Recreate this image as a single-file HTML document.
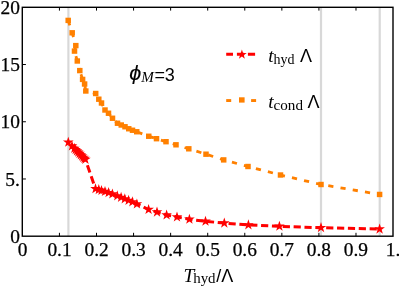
<!DOCTYPE html><html><head><meta charset="utf-8"><style>html,body{margin:0;padding:0;background:#fff;}svg{display:block;}text{font-family:"Liberation Serif",serif;fill:#000;}.tx{filter:grayscale(1);}.ss{font-family:"Liberation Sans",sans-serif;}</style></head><body>
<svg width="399" height="289" viewBox="0 0 399 289">
<rect width="399" height="289" fill="#fff"/>
<line x1="68.40" y1="7.00" x2="68.40" y2="236.00" stroke="#d8d8d8" stroke-width="2.2"/>
<line x1="321.00" y1="7.00" x2="321.00" y2="236.00" stroke="#d8d8d8" stroke-width="2.2"/>
<line x1="379.70" y1="7.00" x2="379.70" y2="236.00" stroke="#d8d8d8" stroke-width="2.2"/>
<polyline points="68.20,20.40 72.20,32.80 75.80,45.60 74.50,51.10 77.30,61.00 79.80,70.60" fill="none" stroke="#ff8000" stroke-width="2.8" stroke-dasharray="5.2 7.2" stroke-dashoffset="0"/>
<polyline points="79.80,70.60 82.60,79.40 84.60,84.00 85.80,91.00 95.70,93.50 98.80,99.20 101.50,103.00 105.00,110.00 108.50,113.25 112.50,118.25 117.50,123.25 121.25,125.00 125.00,126.75 128.75,128.75 132.50,130.25 136.75,131.75 148.75,136.25 156.50,138.70 166.00,141.70 176.00,144.80 188.80,148.80 206.00,154.20 223.70,159.90 248.00,166.50 280.50,175.00 321.00,184.50 379.60,194.45" fill="none" stroke="#ff8000" stroke-width="2.8" stroke-dasharray="5.2 7.2" stroke-dashoffset="8.59"/>
<g fill="#ff8000">
<rect x="65.45" y="17.70" width="5.5" height="5.4"/>
<rect x="69.45" y="30.10" width="5.5" height="5.4"/>
<rect x="73.05" y="42.90" width="5.5" height="5.4"/>
<rect x="71.75" y="48.40" width="5.5" height="5.4"/>
<rect x="74.55" y="58.30" width="5.5" height="5.4"/>
<rect x="77.05" y="67.90" width="5.5" height="5.4"/>
<rect x="79.85" y="76.70" width="5.5" height="5.4"/>
<rect x="81.85" y="81.30" width="5.5" height="5.4"/>
<rect x="83.05" y="88.30" width="5.5" height="5.4"/>
<rect x="92.95" y="90.80" width="5.5" height="5.4"/>
<rect x="96.05" y="96.50" width="5.5" height="5.4"/>
<rect x="98.75" y="100.30" width="5.5" height="5.4"/>
<rect x="102.25" y="107.30" width="5.5" height="5.4"/>
<rect x="105.75" y="110.55" width="5.5" height="5.4"/>
<rect x="109.75" y="115.55" width="5.5" height="5.4"/>
<rect x="114.75" y="120.55" width="5.5" height="5.4"/>
<rect x="118.50" y="122.30" width="5.5" height="5.4"/>
<rect x="122.25" y="124.05" width="5.5" height="5.4"/>
<rect x="126.00" y="126.05" width="5.5" height="5.4"/>
<rect x="129.75" y="127.55" width="5.5" height="5.4"/>
<rect x="134.00" y="129.05" width="5.5" height="5.4"/>
<rect x="146.00" y="133.55" width="5.5" height="5.4"/>
<rect x="153.75" y="136.00" width="5.5" height="5.4"/>
<rect x="163.25" y="139.00" width="5.5" height="5.4"/>
<rect x="173.25" y="142.10" width="5.5" height="5.4"/>
<rect x="186.05" y="146.10" width="5.5" height="5.4"/>
<rect x="203.25" y="151.50" width="5.5" height="5.4"/>
<rect x="220.95" y="157.20" width="5.5" height="5.4"/>
<rect x="245.25" y="163.80" width="5.5" height="5.4"/>
<rect x="277.75" y="172.30" width="5.5" height="5.4"/>
<rect x="318.25" y="181.80" width="5.5" height="5.4"/>
<rect x="376.85" y="191.75" width="5.5" height="5.4"/>
</g>
<polyline points="85.40,159.40 95.50,188.80" fill="none" stroke="#ff0000" stroke-width="3.0" stroke-dasharray="0 6.1 7.8 3.9 7.6 20" stroke-dashoffset="0"/>
<polyline points="95.50,188.80 98.80,189.70 101.50,190.50 105.00,191.50 108.60,192.70 112.40,194.00 117.30,195.90 121.10,197.40 124.80,198.90 128.60,200.40 132.40,201.90 136.90,204.00 148.60,209.50 157.00,212.10 166.60,215.00 177.00,217.00 189.40,219.30 205.50,221.30 224.30,223.10 248.40,224.90 279.40,226.30 321.00,227.70 379.60,229.10" fill="none" stroke="#ff0000" stroke-width="3.0" stroke-dasharray="7.2 3.66" stroke-dashoffset="2.7"/>
<g fill="#ff0000">
<polygon points="68.30,136.70 69.56,140.57 73.63,140.57 70.33,142.96 71.59,146.83 68.30,144.44 65.01,146.83 66.27,142.96 62.97,140.57 67.04,140.57"/>
<polygon points="72.00,140.40 73.26,144.27 77.33,144.27 74.03,146.66 75.29,150.53 72.00,148.14 68.71,150.53 69.97,146.66 66.67,144.27 70.74,144.27"/>
<polygon points="74.40,142.80 75.66,146.67 79.73,146.67 76.43,149.06 77.69,152.93 74.40,150.54 71.11,152.93 72.37,149.06 69.07,146.67 73.14,146.67"/>
<polygon points="75.70,144.10 76.96,147.97 81.03,147.97 77.73,150.36 78.99,154.23 75.70,151.84 72.41,154.23 73.67,150.36 70.37,147.97 74.44,147.97"/>
<polygon points="77.00,145.40 78.26,149.27 82.33,149.27 79.03,151.66 80.29,155.53 77.00,153.14 73.71,155.53 74.97,151.66 71.67,149.27 75.74,149.27"/>
<polygon points="78.30,146.70 79.56,150.57 83.63,150.57 80.33,152.96 81.59,156.83 78.30,154.44 75.01,156.83 76.27,152.96 72.97,150.57 77.04,150.57"/>
<polygon points="79.60,148.00 80.86,151.87 84.93,151.87 81.63,154.26 82.89,158.13 79.60,155.74 76.31,158.13 77.57,154.26 74.27,151.87 78.34,151.87"/>
<polygon points="80.90,149.30 82.16,153.17 86.23,153.17 82.93,155.56 84.19,159.43 80.90,157.04 77.61,159.43 78.87,155.56 75.57,153.17 79.64,153.17"/>
<polygon points="82.20,150.60 83.46,154.47 87.53,154.47 84.23,156.86 85.49,160.73 82.20,158.34 78.91,160.73 80.17,156.86 76.87,154.47 80.94,154.47"/>
<polygon points="83.40,151.80 84.66,155.67 88.73,155.67 85.43,158.06 86.69,161.93 83.40,159.54 80.11,161.93 81.37,158.06 78.07,155.67 82.14,155.67"/>
<polygon points="84.50,152.90 85.76,156.77 89.83,156.77 86.53,159.16 87.79,163.03 84.50,160.64 81.21,163.03 82.47,159.16 79.17,156.77 83.24,156.77"/>
<polygon points="85.40,153.80 86.66,157.67 90.73,157.67 87.43,160.06 88.69,163.93 85.40,161.54 82.11,163.93 83.37,160.06 80.07,157.67 84.14,157.67"/>
<polygon points="95.50,183.20 96.76,187.07 100.83,187.07 97.53,189.46 98.79,193.33 95.50,190.94 92.21,193.33 93.47,189.46 90.17,187.07 94.24,187.07"/>
<polygon points="98.80,184.10 100.06,187.97 104.13,187.97 100.83,190.36 102.09,194.23 98.80,191.84 95.51,194.23 96.77,190.36 93.47,187.97 97.54,187.97"/>
<polygon points="101.50,184.90 102.76,188.77 106.83,188.77 103.53,191.16 104.79,195.03 101.50,192.64 98.21,195.03 99.47,191.16 96.17,188.77 100.24,188.77"/>
<polygon points="105.00,185.90 106.26,189.77 110.33,189.77 107.03,192.16 108.29,196.03 105.00,193.64 101.71,196.03 102.97,192.16 99.67,189.77 103.74,189.77"/>
<polygon points="108.60,187.10 109.86,190.97 113.93,190.97 110.63,193.36 111.89,197.23 108.60,194.84 105.31,197.23 106.57,193.36 103.27,190.97 107.34,190.97"/>
<polygon points="112.40,188.40 113.66,192.27 117.73,192.27 114.43,194.66 115.69,198.53 112.40,196.14 109.11,198.53 110.37,194.66 107.07,192.27 111.14,192.27"/>
<polygon points="117.30,190.30 118.56,194.17 122.63,194.17 119.33,196.56 120.59,200.43 117.30,198.04 114.01,200.43 115.27,196.56 111.97,194.17 116.04,194.17"/>
<polygon points="121.10,191.80 122.36,195.67 126.43,195.67 123.13,198.06 124.39,201.93 121.10,199.54 117.81,201.93 119.07,198.06 115.77,195.67 119.84,195.67"/>
<polygon points="124.80,193.30 126.06,197.17 130.13,197.17 126.83,199.56 128.09,203.43 124.80,201.04 121.51,203.43 122.77,199.56 119.47,197.17 123.54,197.17"/>
<polygon points="128.60,194.80 129.86,198.67 133.93,198.67 130.63,201.06 131.89,204.93 128.60,202.54 125.31,204.93 126.57,201.06 123.27,198.67 127.34,198.67"/>
<polygon points="132.40,196.30 133.66,200.17 137.73,200.17 134.43,202.56 135.69,206.43 132.40,204.04 129.11,206.43 130.37,202.56 127.07,200.17 131.14,200.17"/>
<polygon points="136.90,198.40 138.16,202.27 142.23,202.27 138.93,204.66 140.19,208.53 136.90,206.14 133.61,208.53 134.87,204.66 131.57,202.27 135.64,202.27"/>
<polygon points="148.60,203.90 149.86,207.77 153.93,207.77 150.63,210.16 151.89,214.03 148.60,211.64 145.31,214.03 146.57,210.16 143.27,207.77 147.34,207.77"/>
<polygon points="157.00,206.50 158.26,210.37 162.33,210.37 159.03,212.76 160.29,216.63 157.00,214.24 153.71,216.63 154.97,212.76 151.67,210.37 155.74,210.37"/>
<polygon points="166.60,209.40 167.86,213.27 171.93,213.27 168.63,215.66 169.89,219.53 166.60,217.14 163.31,219.53 164.57,215.66 161.27,213.27 165.34,213.27"/>
<polygon points="177.00,211.40 178.26,215.27 182.33,215.27 179.03,217.66 180.29,221.53 177.00,219.14 173.71,221.53 174.97,217.66 171.67,215.27 175.74,215.27"/>
<polygon points="189.40,213.70 190.66,217.57 194.73,217.57 191.43,219.96 192.69,223.83 189.40,221.44 186.11,223.83 187.37,219.96 184.07,217.57 188.14,217.57"/>
<polygon points="205.50,215.70 206.76,219.57 210.83,219.57 207.53,221.96 208.79,225.83 205.50,223.44 202.21,225.83 203.47,221.96 200.17,219.57 204.24,219.57"/>
<polygon points="224.30,217.50 225.56,221.37 229.63,221.37 226.33,223.76 227.59,227.63 224.30,225.24 221.01,227.63 222.27,223.76 218.97,221.37 223.04,221.37"/>
<polygon points="248.40,219.30 249.66,223.17 253.73,223.17 250.43,225.56 251.69,229.43 248.40,227.04 245.11,229.43 246.37,225.56 243.07,223.17 247.14,223.17"/>
<polygon points="279.40,220.70 280.66,224.57 284.73,224.57 281.43,226.96 282.69,230.83 279.40,228.44 276.11,230.83 277.37,226.96 274.07,224.57 278.14,224.57"/>
<polygon points="321.00,222.10 322.26,225.97 326.33,225.97 323.03,228.36 324.29,232.23 321.00,229.84 317.71,232.23 318.97,228.36 315.67,225.97 319.74,225.97"/>
<polygon points="379.60,223.50 380.86,227.37 384.93,227.37 381.63,229.76 382.89,233.63 379.60,231.24 376.31,233.63 377.57,229.76 374.27,227.37 378.34,227.37"/>
</g>
<rect x="22.30" y="7.30" width="370.70" height="228.90" stroke="#000" stroke-width="1.4" fill="none"/>
<g stroke="#000" stroke-width="1" fill="none">
<line x1="59.43" y1="236.20" x2="59.43" y2="232.80"/>
<line x1="59.43" y1="7.30" x2="59.43" y2="10.60"/>
<line x1="96.50" y1="236.20" x2="96.50" y2="232.80"/>
<line x1="96.50" y1="7.30" x2="96.50" y2="10.60"/>
<line x1="133.57" y1="236.20" x2="133.57" y2="232.80"/>
<line x1="133.57" y1="7.30" x2="133.57" y2="10.60"/>
<line x1="170.64" y1="236.20" x2="170.64" y2="232.80"/>
<line x1="170.64" y1="7.30" x2="170.64" y2="10.60"/>
<line x1="207.71" y1="236.20" x2="207.71" y2="232.80"/>
<line x1="207.71" y1="7.30" x2="207.71" y2="10.60"/>
<line x1="244.78" y1="236.20" x2="244.78" y2="232.80"/>
<line x1="244.78" y1="7.30" x2="244.78" y2="10.60"/>
<line x1="281.85" y1="236.20" x2="281.85" y2="232.80"/>
<line x1="281.85" y1="7.30" x2="281.85" y2="10.60"/>
<line x1="318.92" y1="236.20" x2="318.92" y2="232.80"/>
<line x1="318.92" y1="7.30" x2="318.92" y2="10.60"/>
<line x1="355.99" y1="236.20" x2="355.99" y2="232.80"/>
<line x1="355.99" y1="7.30" x2="355.99" y2="10.60"/>
<line x1="22.30" y1="178.97" x2="25.90" y2="178.97"/>
<line x1="22.30" y1="121.75" x2="25.90" y2="121.75"/>
<line x1="22.30" y1="64.53" x2="25.90" y2="64.53"/>
</g>
<line x1="226.2" y1="54.3" x2="255.1" y2="54.3" stroke="#ff0000" stroke-width="2.9" stroke-dasharray="6.8 3.9 7.2 3.8 7.2"/>
<g fill="#ff0000"><polygon points="241.90,49.50 243.05,53.02 246.75,53.02 243.75,55.20 244.90,58.73 241.90,56.55 238.90,58.73 240.05,55.20 237.05,53.02 240.75,53.02"/></g>
<g fill="#ff8000"><rect x="226.2" y="99.1" width="5" height="2.9"/><rect x="251.1" y="99.1" width="5" height="2.9"/><rect x="239" y="97.3" width="5.6" height="5.3"/></g>
<g class="tx">
<g font-size="19.4" stroke="#000" stroke-width="0.25">
<text x="22.50" y="255.7" text-anchor="middle">0</text>
<text x="59.55" y="255.7" text-anchor="middle">0.1</text>
<text x="96.60" y="255.7" text-anchor="middle">0.2</text>
<text x="133.65" y="255.7" text-anchor="middle">0.3</text>
<text x="170.70" y="255.7" text-anchor="middle">0.4</text>
<text x="207.75" y="255.7" text-anchor="middle">0.5</text>
<text x="244.80" y="255.7" text-anchor="middle">0.6</text>
<text x="281.85" y="255.7" text-anchor="middle">0.7</text>
<text x="318.90" y="255.7" text-anchor="middle">0.8</text>
<text x="355.95" y="255.7" text-anchor="middle">0.9</text>
<text x="393.00" y="255.7" text-anchor="middle">1.</text>
<text x="19.9" y="242.90" text-anchor="end">0</text>
<text x="19.9" y="185.65" text-anchor="end">5.</text>
<text x="19.9" y="128.40" text-anchor="end">10</text>
<text x="19.9" y="71.15" text-anchor="end">15</text>
<text x="19.9" y="13.90" text-anchor="end">20</text>
</g>
<text x="183.6" y="281.7" font-size="19.4" font-style="italic">T</text>
<text x="193.2" y="283.4" font-size="14" textLength="22.4" lengthAdjust="spacingAndGlyphs">hyd</text>
<text x="216.2" y="281.7" font-size="18" class="ss">/Λ</text>
<text transform="translate(129.3,80.2) scale(1.08,1)" font-size="20" class="ss" font-style="italic" stroke="#000" stroke-width="0.12">ϕ</text>
<text x="141.2" y="82.4" font-size="14" font-style="italic" textLength="12.6" lengthAdjust="spacingAndGlyphs">M</text>
<text x="154.6" y="80.5" font-size="18" class="ss">=</text>
<text x="164.7" y="80.5" font-size="18" class="ss">3</text>
<text x="268.2" y="62.2" font-size="19.4"><tspan font-style="italic">t</tspan><tspan font-size="14" dy="1.4">hyd</tspan><tspan dy="-1.4" class="ss" font-size="18" dx="5.5">Λ</tspan></text>
<text x="268.2" y="108.0" font-size="19.4"><tspan font-style="italic">t</tspan><tspan font-size="14" dy="1.6" textLength="29.4" lengthAdjust="spacingAndGlyphs">cond</tspan><tspan dy="-1.6" class="ss" font-size="18" dx="4.4">Λ</tspan></text>
</g>
</svg></body></html>
